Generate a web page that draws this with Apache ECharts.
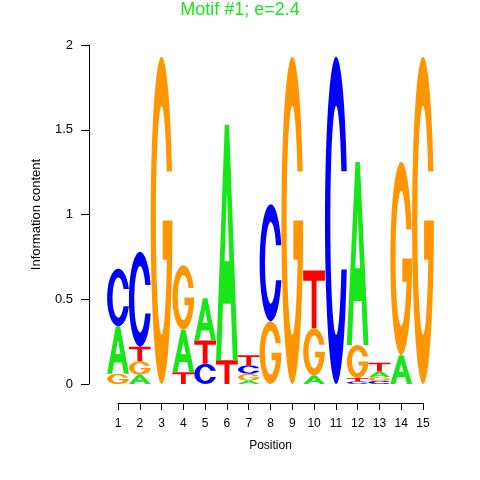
<!DOCTYPE html>
<html>
<head>
<meta charset="utf-8">
<script src="https://cdn.jsdelivr.net/npm/echarts@6/dist/echarts.min.js"></script>
<style>
  html, body { margin: 0; padding: 0; background: #fff; }
  #chart { width: 480px; height: 480px; }
</style>
</head>
<body>
<div id="chart"></div>
<script>
// motif data: information content per letter at each position
const positions = [1, 2, 3, 4, 5, 6, 7, 8, 9, 10, 11, 12, 13, 14, 15];
const heightA = [0.28, 0.055, 0, 0.25, 0.25, 1.39, 0.02, 0, 0, 0.05, 0, 1.08, 0.035, 0.17, 0];
const heightC = [0.34, 0.56, 0, 0, 0.12, 0, 0.05, 0.69, 0, 0, 1.93, 0.015, 0.018, 0, 0];
const heightG = [0.06, 0.08, 1.93, 0.38, 0, 0, 0.04, 0.37, 1.93, 0.28, 0, 0.195, 0.022, 1.14, 1.93];
const heightT = [0, 0.085, 0, 0.07, 0.136, 0.14, 0.06, 0, 0, 0.34, 0, 0.02, 0.05, 0, 0];
const yTicks = [0, 0.5, 1, 1.5, 2];

const letters = ['A', 'C', 'G', 'T'];
const letterColors = { A: '#19E619', C: '#0000FF', G: '#FF9500', T: '#FF0000' };

// glyph outlines in a 100x100 box, stretched to each letter's box
const glyphs = {
  A: 'M0,100 L40,0 L60,0 L100,100 L77,100 L68,76 L32,76 L23,100 Z M39,58 L61,58 L50,28 Z',
  C: 'M97.7,35 A50,50 0 1 0 97.7,65 L73.5,65 A26,35 0 1 1 73.5,35 Z',
  G: 'M97.7,35 A50,50 0 1 0 100,50 L55,50 L55,62 L74.4,62 A26,35 0 1 1 73.5,35 Z',
  T: 'M0,0 L100,0 L100,18 L61,18 L61,100 L39,100 L39,18 L0,18 Z'
};

const logoData = positions.map((p, i) => [p, heightA[i], heightC[i], heightG[i], heightT[i]]);

const chart = echarts.init(document.getElementById('chart'), null, { renderer: 'canvas' });

function renderLetters(params, api) {
  const pos = api.value(0);
  const stack = letters
    .map((l, k) => ({ l: l, h: api.value(k + 1) }))
    .filter(d => d.h > 0)
    .sort((a, b) => a.h - b.h);
  let base = 0;
  const children = [];
  stack.forEach(d => {
    const p0 = api.coord([pos - 0.5, base]);
    const p1 = api.coord([pos + 0.5, base + d.h]);
    children.push({
      type: 'path',
      shape: {
        pathData: glyphs[d.l],
        x: p0[0],
        y: p1[1],
        width: p1[0] - p0[0],
        height: p0[1] - p1[1],
        layout: 'cover'
      },
      style: { fill: letterColors[d.l] }
    });
    base += d.h;
  });
  return { type: 'group', children: children };
}

const font = 'Liberation Sans, Arial, Helvetica, sans-serif';

chart.setOption({
  animation: false,
  backgroundColor: '#fff',
  title: {
    text: 'Motif #1; e=2.4',
    left: 'center',
    top: 1,
    padding: 0,
    textStyle: { color: '#19E619', fontSize: 18, fontWeight: 'normal', fontFamily: font }
  },
  grid: { left: 118, right: 57, top: 45, bottom: 96 },
  xAxis: {
    type: 'value',
    min: 1,
    max: 15,
    interval: 1,
    offset: 19,
    name: 'Position',
    nameLocation: 'middle',
    nameGap: 37,
    nameTextStyle: { color: '#000', fontSize: 12, fontFamily: font },
    axisLine: { show: true, onZero: false, lineStyle: { color: '#000', width: 1 } },
    axisTick: { show: true, length: 7, lineStyle: { color: '#000' } },
    axisLabel: { color: '#000', fontSize: 12, fontFamily: font, margin: 15 },
    splitLine: { show: false }
  },
  yAxis: {
    type: 'value',
    min: 0,
    max: 2,
    interval: 0.5,
    offset: 29,
    name: 'Information content',
    nameLocation: 'middle',
    nameGap: 46,
    nameTextStyle: { color: '#000', fontSize: 13, fontFamily: font },
    axisLine: { show: true, onZero: false, lineStyle: { color: '#000', width: 1 } },
    axisTick: { show: true, length: 8, lineStyle: { color: '#000' } },
    axisLabel: {
      color: '#000',
      fontSize: 13,
      fontFamily: font,
      margin: 16,
      formatter: v => (yTicks.indexOf(v) >= 0 ? String(v) : '')
    },
    splitLine: { show: false }
  },
  series: [
    {
      type: 'custom',
      renderItem: renderLetters,
      clip: false,
      encode: { x: 0, y: 1 },
      data: logoData
    }
  ]
});
</script>
</body>
</html>
